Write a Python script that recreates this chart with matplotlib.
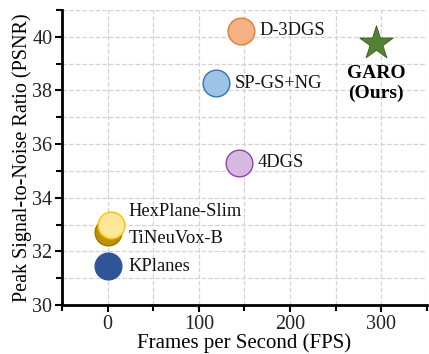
import matplotlib
matplotlib.use("Agg")
import matplotlib.pyplot as plt
from matplotlib.ticker import MultipleLocator

plt.rcParams['font.family'] = ['Liberation Serif', 'DejaVu Serif']

methods = ["D-3DGS", "SP-GS+NG", "4DGS", "TiNeuVox-B", "HexPlane-Slim", "KPlanes"]
fps = [146.6, 118.9, 144.4, 0, 4, 0]
psnr = [40.22, 38.26, 35.30, 32.74, 33.0, 31.45]
fills = ["#F4B183", "#9DC3E6", "#D5B9E0", "#BF9000", "#FFE699", "#2F5597"]
edges = ["#E07B39", "#2E75B6", "#8E44AD", "#A07A00", "#FFC000", "#2F5597"]
label_dx = [20, 20, 20, 23, 19, 23]
label_dy = [0, 0, 0, -0.27, 0.5, 0]

ours_name = "GARO\n(Ours)"
ours_fps = 294.5
ours_psnr = 39.78

fig = plt.figure(figsize=(4.29, 3.54), dpi=100)
ax = fig.add_axes([0.1445, 0.1384, 0.8505, 0.8336])

ax.set_xlim(-50, 350)
ax.set_ylim(30, 41)
ax.xaxis.set_major_locator(MultipleLocator(100))
ax.xaxis.set_minor_locator(MultipleLocator(50))
ax.yaxis.set_major_locator(MultipleLocator(2))
ax.yaxis.set_minor_locator(MultipleLocator(1))
ax.grid(True, which='both', linestyle='--', color='#d3d3d3', linewidth=0.9)
ax.set_axisbelow(True)

for s in ['top', 'right']:
    ax.spines[s].set_visible(False)
for s in ['left', 'bottom']:
    ax.spines[s].set_linewidth(2)
ax.tick_params(which='major', length=5, width=1.5, labelsize=14.5, colors='black', pad=2)
ax.tick_params(which='minor', length=4, width=1.5)
for lab in ax.get_xticklabels() + ax.get_yticklabels():
    lab.set_color('#222222')

for m, x, y, fc, ec, dx, dy in zip(methods, fps, psnr, fills, edges, label_dx, label_dy):
    ax.scatter([x], [y], s=370, c=fc, edgecolors=ec, linewidths=1.0, zorder=3)
    ax.text(x + dx, y + dy, m, fontsize=13.3, va='center', ha='left', color='#111111', zorder=4)

ax.scatter([ours_fps], [ours_psnr], s=650, marker='*', c='#548235',
           edgecolors='#385723', linewidths=0.6, zorder=3)
ax.text(ours_fps, ours_psnr - 0.85, ours_name, fontsize=14, fontweight='bold',
        ha='center', va='top', linespacing=1.15, zorder=4)

ax.set_xlabel("Frames per Second (FPS)", fontsize=15, labelpad=-0.5)
ax.set_ylabel("Peak Signal-to-Noise Ratio (PSNR)", fontsize=14.5, labelpad=0)

fig.savefig("out.png", dpi=100)
